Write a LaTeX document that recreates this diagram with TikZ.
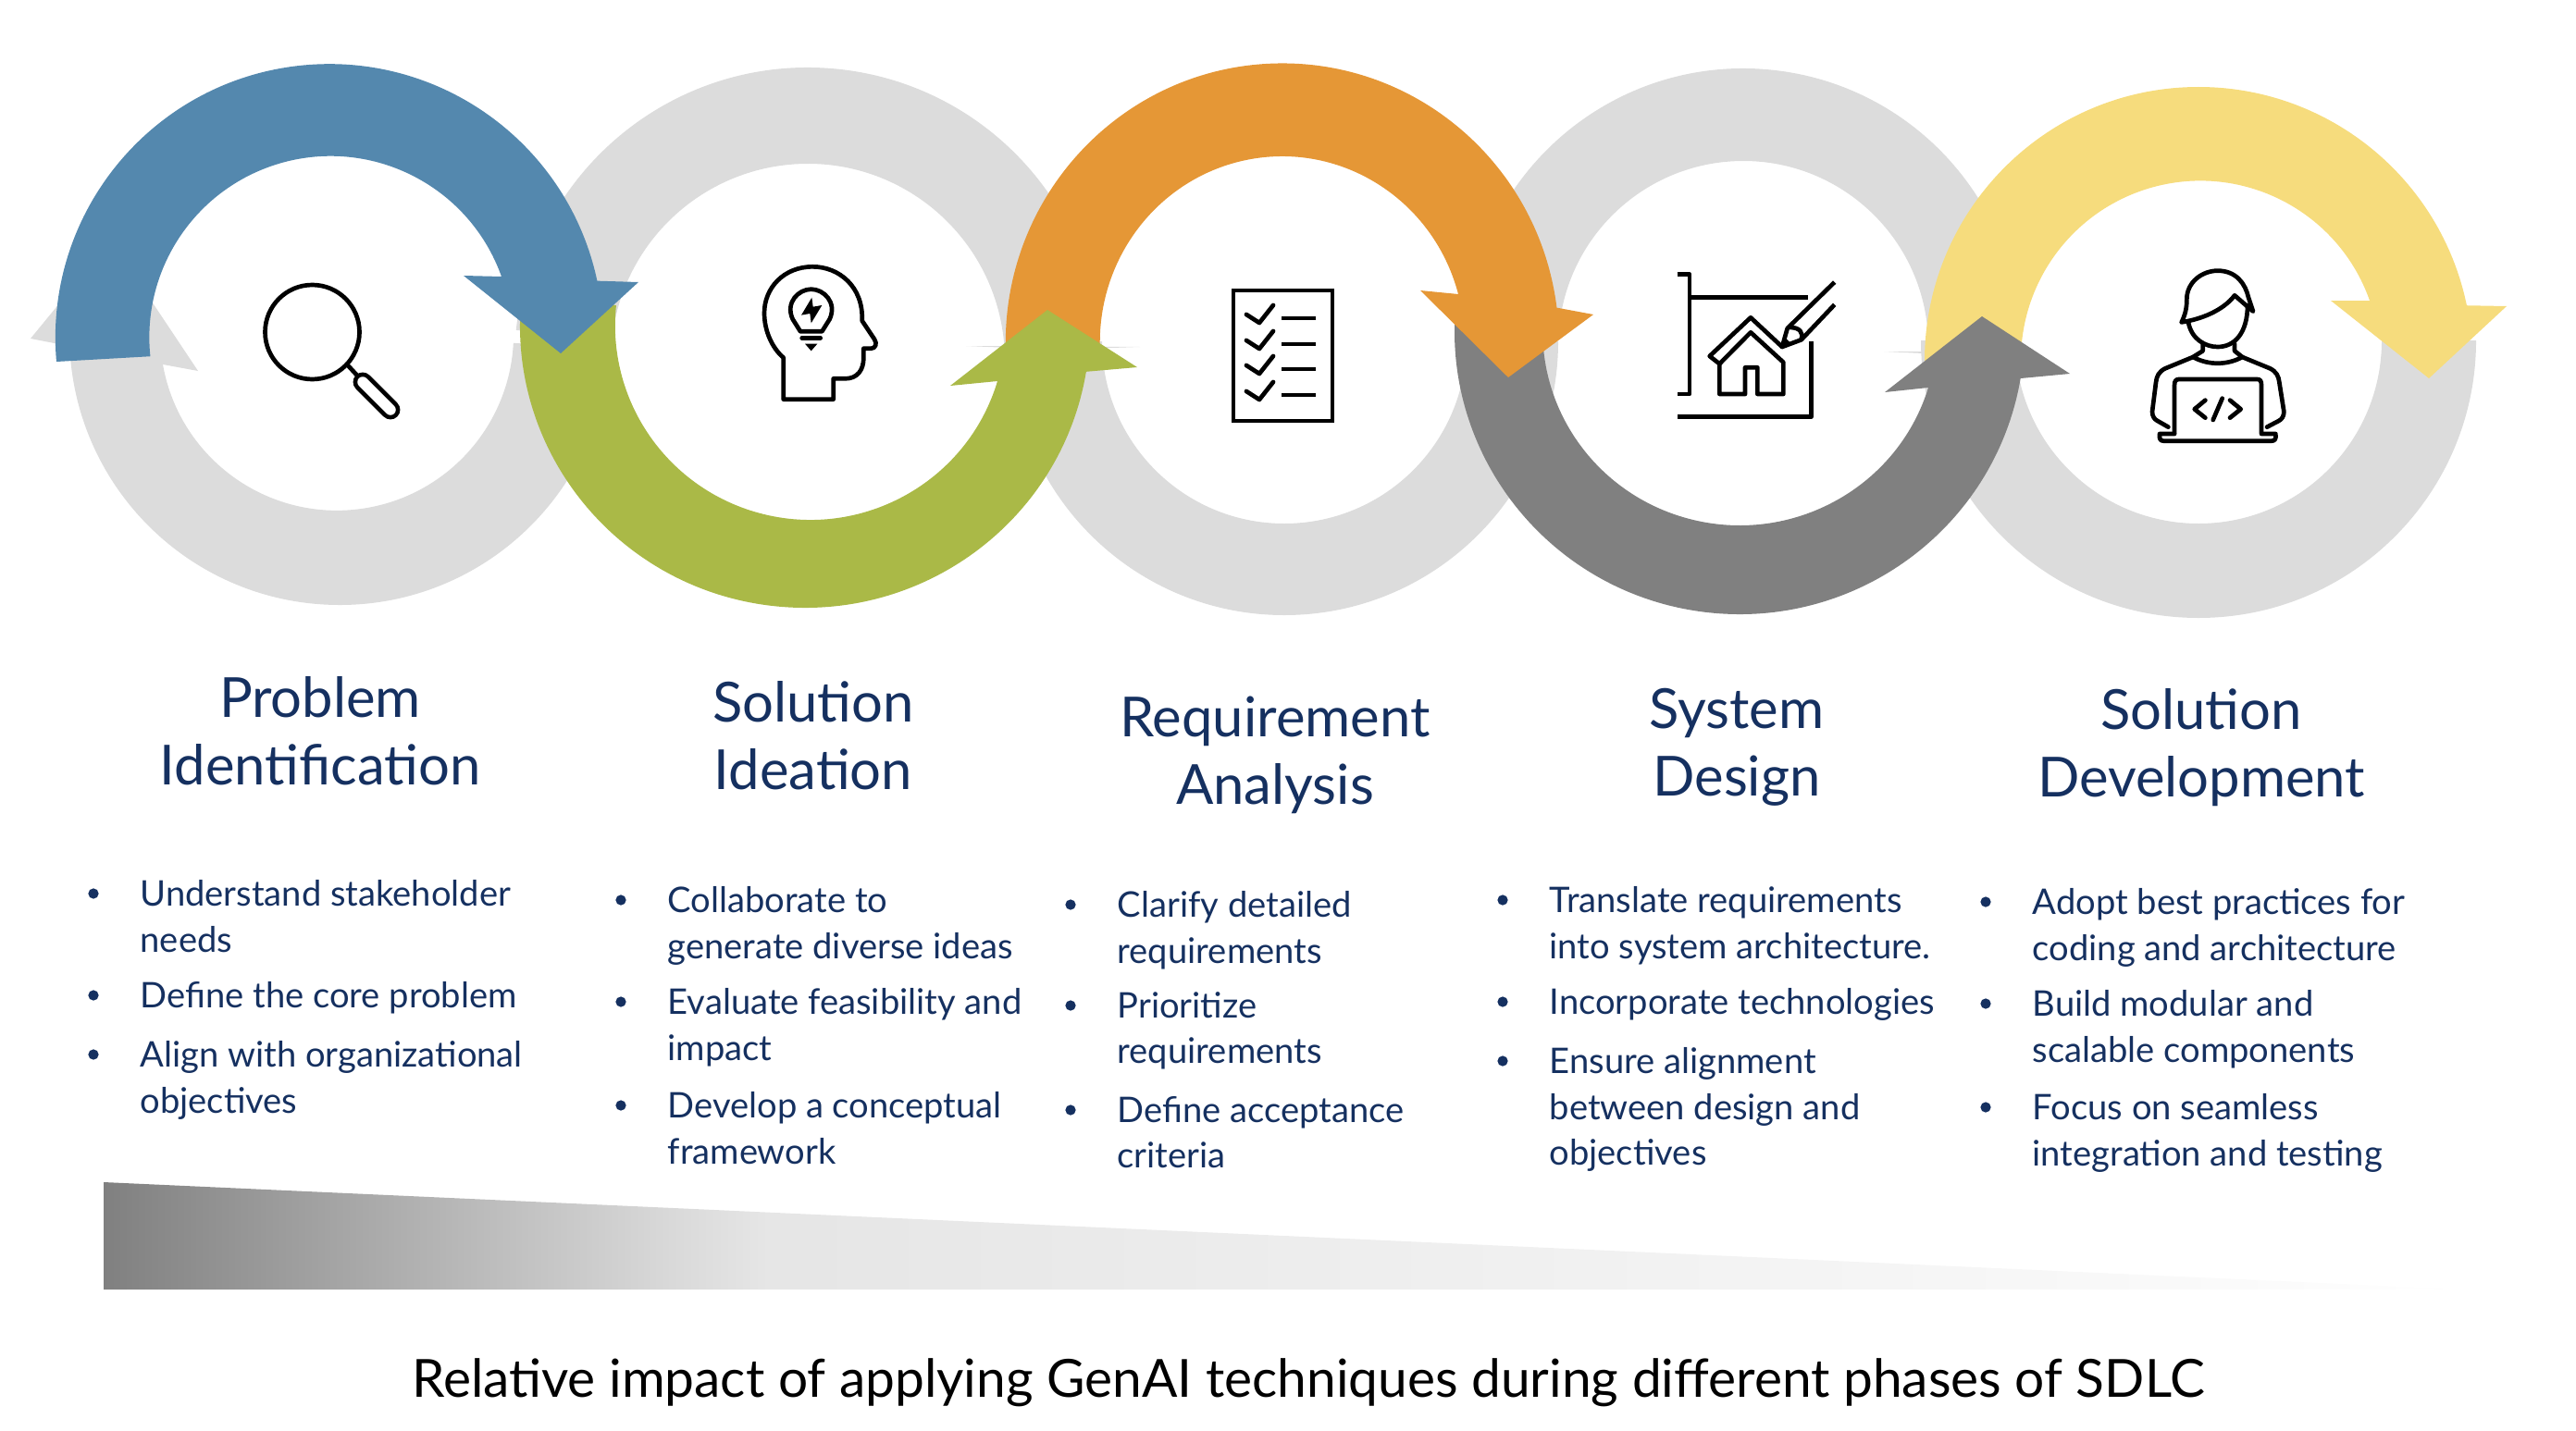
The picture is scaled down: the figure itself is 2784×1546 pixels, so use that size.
\documentclass[tikz,border=0pt]{standalone}
\usepackage{fontspec}
\setmainfont{Lato}
\usetikzlibrary{positioning}
\definecolor{ringgrey}{HTML}{DCDCDC}
\definecolor{bluearc}{HTML}{5488AE}
\definecolor{olivearc}{HTML}{AAB947}
\definecolor{orangearc}{HTML}{E59736}
\definecolor{darkarc}{HTML}{808080}
\definecolor{yellowarc}{HTML}{F6DC7D}
\definecolor{navytext}{HTML}{153060}
\pgfdeclarehorizontalshading{wedgefade}{100bp}{color(0bp)=(darkarc); color(25bp)=(darkarc); color(37bp)=(black!15); color(39bp)=(black!10); color(70bp)=(black!2); color(75bp)=(white); color(100bp)=(white)}
\tikzset{
	titletext/.style={font=\fontsize{17}{20.8}\selectfont,text=navytext,align=center,inner sep=0pt},
	itemtext/.style={font=\fontsize{10.85}{14}\selectfont,text=navytext,align=left,inner sep=0pt,anchor=north west},
	bulletdot/.style={fill=navytext,circle,inner sep=0pt,minimum size=3.2pt},
	iconline/.style={draw=black,line width=0.47mm,line join=round,line cap=round}
}
\begin{document}
\begin{tikzpicture}[x=0.1mm,y=-0.1mm]
\useasboundingbox (0,0) rectangle (2784,1546);
% grey rings behind
\foreach \cx/\cy/\ra/\rb/\sa/\ea in {873/390/317/213/186/356,1388/369/296/197/0/180,1884/374/300/200/186/358,2376/368/300/198/0/180} {
	\fill[ringgrey] ([shift={(\cx,\cy)}]\sa:\ra) arc[start angle=\sa,end angle=\ea,radius=\ra] -- ([shift={(\cx,\cy)}]\ea:\rb) arc[start angle=\ea,end angle=\sa,radius=\rb] -- cycle;
}
\fill[ringgrey] ([shift={(367,362)}]3:292) arc[start angle=3,end angle=177.6,radius=292] -- (33,366) -- (120,260) -- (214,401) -- (176,394) arc[start angle=170,end angle=3,radius=191] -- cycle;
\fill[ringgrey] (1044,374) -- (1232,375) -- (1140,378) -- cycle;
\fill[ringgrey] (2036,380) -- (2100,380) -- (2100,383) -- cycle;
% coloured arrows
\fill[yellowarc] (2080,390) arc[start angle=180,end angle=348.35,radius=296] -- (2709,331) -- (2625,409) -- (2519,325) -- (2561,325) arc[start angle=340.6,end angle=180,radius=194] -- cycle;
\fill[darkarc] ([shift={(1880,358)}]186:308 and 306) arc[start angle=186,end angle=9.6,x radius=308,y radius=306] -- (2237,404) -- (2142,342) -- (2037,424) -- (2084,419) arc[start angle=16.9,end angle=186,x radius=213,y radius=210] -- cycle;
\fill[orangearc] (1087,381) arc[start angle=178,end angle=352.8,x radius=299,y radius=302] -- (1722,340) -- (1630,408) -- (1535,314) -- (1576,318) arc[start angle=345,end angle=178,x radius=197,y radius=201] -- cycle;
\fill[olivearc] ([shift={(870,352)}]186:308 and 305) arc[start angle=186,end angle=9.4,x radius=308,y radius=305] -- (1229,397) -- (1132,335) -- (1027,417) -- (1078,412) arc[start angle=16.6,end angle=186,x radius=211,y radius=210] -- cycle;
\fill[bluearc] (61,391) arc[start angle=175,end angle=348,radius=296] -- (690,305) -- (606,382) -- (501,298) -- (542,299) arc[start angle=340.4,end angle=174,radius=196] -- cycle;
% magnifier
\draw[iconline] (337.5,359) circle (51);
\draw[iconline] (375,394) -- (388,408);
\draw[iconline,double=white,double distance=1.15mm] (392,413) -- (422,443);
% head with bulb
\begin{scope}[shift={(800,270)},scale=1/3]
\draw[iconline] (140,350) -- (140,485) -- (302,485) -- (302,418) -- (340,418) .. controls (380,418) and (400,390) .. (400,350) -- (400,320) -- (425,320) .. controls (438,320) and (445,305) .. (435,290) -- (395,230) .. controls (400,120) and (320,55) .. (235,55) .. controls (140,55) and (78,125) .. (78,205) .. controls (78,265) and (105,320) .. (140,350);
\draw[iconline] (195,265) -- (170,225) .. controls (145,170) and (190,128) .. (230,128) .. controls (270,128) and (315,170) .. (290,225) -- (265,265) -- cycle;
\draw[iconline] (200,286) -- (260,286);
\fill (210,305) -- (250,305) -- (230,328) -- cycle;
\fill (232,155) -- (198,212) -- (226,207) -- (230,238) -- (265,180) -- (236,185) -- cycle;
\end{scope}
% checklist
\draw[iconline,line cap=butt,line join=miter] (1333,314) rectangle (1440,455);
\foreach \y in {342,370,397,425} {
	\draw[iconline] (1347,\y-2) -- (1361,\y+7) -- (1376,\y-12);
	\draw[iconline,line cap=butt] (1385,\y+2) -- (1422,\y+2);
}
% house on a drawing
\begin{scope}[shift={(1800,280)},scale=1/3]
\draw[iconline,line cap=butt] (38,50) -- (78,50) -- (78,438) -- (38,438);
\draw[iconline,line cap=butt] (78,125) -- (462,125);
\draw[iconline,line cap=butt] (472,268) -- (472,512) -- (38,512);
\draw[iconline] (175,340) -- (175,438) -- (258,438) -- (258,352) -- (298,352) -- (298,438) -- (382,438) -- (382,335) -- (276,238) -- cycle;
\draw[iconline] (175,340) -- (143,315) -- (276,190) -- (378,285);
\draw[iconline,line cap=butt] (548,75) -- (395,225) -- (378,285) -- (440,262) -- (548,148);
\draw[iconline] (405,222) .. controls (435,222) and (448,240) .. (440,260);
\fill (378,285) -- (388,255) -- (408,275) -- cycle;
\end{scope}
% developer at a laptop
\begin{scope}[shift={(2320,280)},scale=1/3]
\draw[iconline] (113,205) .. controls (125,180) and (130,160) .. (130,130) .. controls (130,75) and (180,38) .. (230,38) .. controls (290,38) and (320,80) .. (330,125) -- (345,170) -- (285,118) .. controls (250,165) and (180,195) .. (113,205);
\draw[iconline] (135,205) .. controls (145,260) and (190,285) .. (230,285) .. controls (285,285) and (327,240) .. (327,150);
\draw[iconline] (182,275) -- (182,298) -- (150,318) .. controls (200,345) and (260,345) .. (310,318) -- (285,298) -- (285,275);
\draw[iconline] (150,318) -- (60,355) .. controls (40,365) and (32,380) .. (30,400) -- (18,495) .. controls (18,510) and (25,520) .. (35,525) -- (70,545);
\draw[iconline] (310,318) -- (400,355) .. controls (420,365) and (428,380) .. (430,400) -- (445,495) .. controls (445,510) and (438,520) .. (428,525) -- (390,545);
\draw[iconline] (90,565) -- (90,410) .. controls (90,395) and (95,390) .. (105,390) -- (358,390) .. controls (368,390) and (372,395) .. (372,410) -- (372,565);
\draw[iconline] (90,567) -- (42,567) .. controls (40,585) and (45,590) .. (55,590) -- (405,590) .. controls (415,590) and (420,585) .. (418,567) -- (372,567);
\draw[iconline] (190,458) -- (155,487) -- (190,515);
\draw[iconline] (270,458) -- (305,487) -- (270,515);
\draw[iconline] (245,452) -- (215,522);
\end{scope}
% phase titles
\node[titletext] (title1) at (346,790) {Problem\\Identification};
\node[titletext] (title2) at (879,795) {Solution\\Ideation};
\node[titletext] (title3) at (1378,816) {Requirement\\Analysis};
\node[titletext] (title4) at (1877,808) {System\\Design};
\node[titletext] (title5) at (2379,808) {Solution\\Development};
% bullet items
\foreach \nm/\x/\y/\txt in {
	a1/151/966/{Understand stakeholder\\needs},
	a2/151/1076/{Define the core problem},
	a3/151/1140/{Align with organizational\\objectives},
	b1/721/973/{Collaborate to\\generate diverse ideas},
	b2/721/1083/{Evaluate feasibility and\\impact},
	b3/721/1195/{Develop a conceptual\\framework},
	c1/1207/978/{Clarify detailed\\requirements},
	c2/1207/1087/{Prioritize\\requirements},
	c3/1207/1200/{Define acceptance\\criteria},
	d1/1674/973/{Translate requirements\\into system architecture.},
	d2/1674/1083/{Incorporate technologies},
	d3/1674/1147/{Ensure alignment\\between design and\\objectives},
	e1/2196/975/{Adopt best practices for\\coding and architecture},
	e2/2196/1085/{Build modular and\\scalable components},
	e3/2196/1197/{Focus on seamless\\integration and testing}} {
	\node[bulletdot] (dot\nm) at (\x-50,\y) {};
	\node[itemtext] (item\nm) at (\x,\y-15) {\txt};
}
% impact wedge
\shade[shading=wedgefade] (112,1278) -- (2664,1394) -- (112,1394) -- cycle;
\node[font=\fontsize{16.17}{20}\selectfont,text=black,anchor=base,inner sep=0pt] (caption) at (1414,1510) {Relative impact of applying GenAI techniques during different phases of SDLC};
\end{tikzpicture}
\end{document}
